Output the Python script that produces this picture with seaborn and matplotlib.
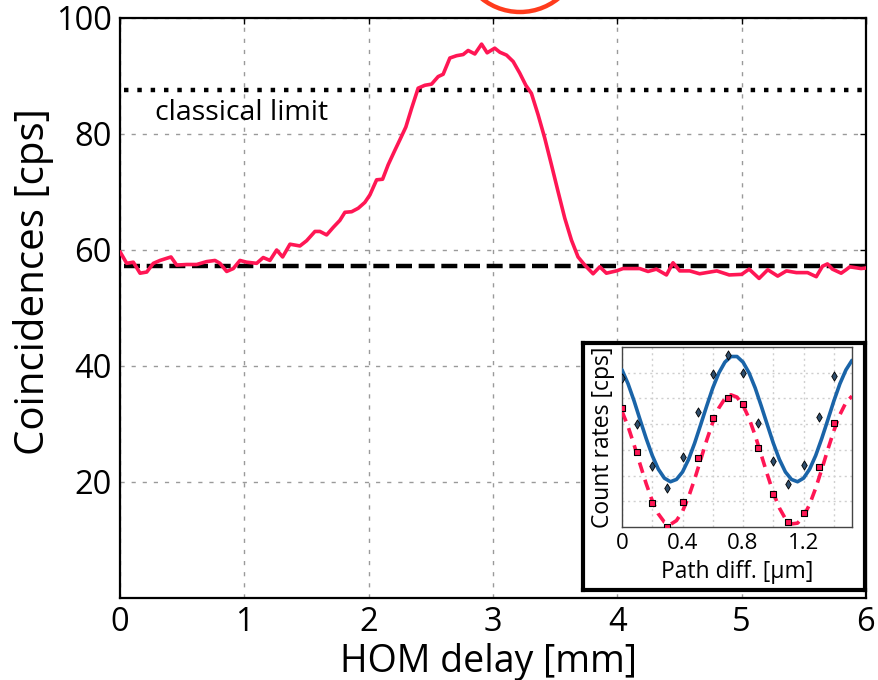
import matplotlib
matplotlib.use("Agg")
import matplotlib.pyplot as plt
from matplotlib.patches import Circle
from matplotlib.ticker import MultipleLocator
import seaborn as sns
import pandas as pd

# ---------------- data ----------------
hom_delay = [0.00, 0.054, 0.107, 0.161, 0.215, 0.268, 0.322, 0.41, 0.456, 0.536, 0.617, 0.697,
             0.764, 0.804, 0.858, 0.911, 0.965, 1.018, 1.099, 1.152, 1.206, 1.26, 1.308, 1.367,
             1.447, 1.501, 1.568, 1.608, 1.662, 1.715, 1.768, 1.809, 1.863, 1.916, 1.969, 2.01,
             2.064, 2.112, 2.157, 2.211, 2.251, 2.299, 2.345, 2.398, 2.452, 2.506, 2.559, 2.599,
             2.653, 2.707, 2.76, 2.8, 2.854, 2.908, 2.953, 3.014, 3.055, 3.109, 3.162, 3.215,
             3.264, 3.309, 3.363, 3.416, 3.47, 3.523, 3.577, 3.631, 3.684, 3.738, 3.805, 3.859,
             3.912, 3.993, 4.046, 4.126, 4.18, 4.247, 4.314, 4.395, 4.448, 4.502, 4.582, 4.662,
             4.80, 4.90, 5.00, 5.06, 5.14, 5.21, 5.29, 5.36, 5.44, 5.53, 5.60, 5.65, 5.69, 5.73,
             5.80, 5.84, 5.87, 5.96, 6.0]
coincidences = [59.7, 57.7, 57.9, 56.0, 56.2, 57.7, 58.2, 58.8, 57.4, 57.5, 57.5, 58.0,
                58.2, 57.7, 56.3, 56.8, 58.2, 57.9, 57.7, 58.7, 58.2, 60.0, 58.8, 61.0,
                60.7, 61.6, 63.2, 63.2, 62.6, 63.9, 65.1, 66.5, 66.6, 67.2, 68.2, 69.5,
                72.1, 72.2, 74.7, 77.2, 79.0, 81.2, 84.4, 87.9, 88.4, 88.6, 89.9, 90.3,
                93.1, 93.5, 93.7, 94.4, 93.8, 95.5, 94.0, 94.8, 94.1, 93.6, 92.5, 90.5,
                88.4, 87.0, 83.3, 79.3, 74.7, 70.1, 65.5, 61.7, 58.8, 57.4, 55.9, 57.1,
                56.0, 56.4, 56.8, 56.8, 56.8, 56.3, 56.7, 55.7, 57.8, 56.4, 56.4, 55.9,
                56.4, 55.7, 55.8, 56.7, 55.1, 56.6, 55.5, 56.4, 56.1, 56.1, 55.4, 57.2, 57.6, 56.7,
                56.0, 56.6, 57.1, 56.8, 56.9]
baseline_level = 57.2
classical_limit = 87.6
main_xticks = [0, 1, 2, 3, 4, 5, 6]
main_yticks = [20, 40, 60, 80, 100]

# inset: measured points
path_pts = [0.0, 0.1, 0.2, 0.3, 0.4, 0.5, 0.6, 0.7, 0.8, 0.9, 1.0, 1.1, 1.2, 1.3, 1.4]
rate_a_pts = [5.81, 4.01, 2.39, 1.53, 2.71, 4.49, 5.95, 6.67, 6.00, 4.06, 2.58, 1.66, 2.41, 4.29, 5.89]
rate_b_pts = [4.62, 2.91, 0.92, 0.01, 0.99, 2.67, 4.22, 5.03, 4.79, 3.06, 1.28, 0.18, 0.56, 2.35, 4.06]
# inset: fitted curves
path_fit = [0.00, 0.04, 0.08, 0.12, 0.16, 0.20, 0.24, 0.28, 0.32, 0.36, 0.40, 0.44, 0.48,
            0.52, 0.56, 0.60, 0.64, 0.68, 0.72, 0.76, 0.80, 0.84, 0.88, 0.92, 0.96, 1.00,
            1.04, 1.08, 1.12, 1.16, 1.20, 1.24, 1.28, 1.32, 1.36, 1.40, 1.44, 1.48, 1.52]
rate_a_fit = [6.11, 5.57, 4.90, 4.16, 3.44, 2.78, 2.25, 1.90, 1.76, 1.85, 2.14, 2.63, 3.26,
              3.98, 4.71, 5.41, 5.99, 6.41, 6.63, 6.63, 6.41, 5.99, 5.41, 4.71, 3.98, 3.26,
              2.63, 2.14, 1.85, 1.76, 1.90, 2.25, 2.78, 3.44, 4.16, 4.90, 5.57, 6.11, 6.48]
rate_b_fit = [4.50, 3.91, 3.19, 2.43, 1.68, 1.02, 0.51, 0.19, 0.10, 0.25, 0.61, 1.17, 1.86,
              2.62, 3.38, 4.07, 4.63, 4.99, 5.14, 5.05, 4.73, 4.22, 3.56, 2.81, 2.05, 1.33,
              0.74, 0.32, 0.12, 0.15, 0.41, 0.88, 1.51, 2.24, 3.01, 3.74, 4.37, 4.84, 5.09]
inset_xticks = [0, 0.4, 0.8, 1.2]
inset_xticklabels = ["0", "0.4", "0.8", "1.2"]

RED = "#ff1654"
BLUE = "#1a64a8"

sns.set_style("white")
plt.rcParams["font.family"] = ["Open Sans", "DejaVu Sans"]
plt.rcParams["text.color"] = "black"
plt.rcParams["axes.labelcolor"] = "black"
plt.rcParams["xtick.color"] = "black"
plt.rcParams["ytick.color"] = "black"

fig = plt.figure(figsize=(8.79, 6.8), dpi=100)

# ---------------- main axes ----------------
ax = fig.add_axes([120 / 879, 1 - 598 / 680, 746 / 879, 580 / 680])
df_main = pd.DataFrame({"delay": hom_delay, "coinc": coincidences})
sns.lineplot(data=df_main, x="delay", y="coinc", ax=ax, color=RED, lw=2.6,
             sort=False, estimator=None, zorder=4)
ax.axhline(baseline_level, xmin=0.006, xmax=1, color="black", lw=3.2,
           linestyle=(0, (3.6, 1.5)), zorder=3)
ax.axhline(classical_limit, xmin=0.006, xmax=0.995, color="black", lw=3.2,
           linestyle=(0, (1, 2.0)), zorder=3)
ax.text(0.28, 83.7, "classical limit", fontsize=20.5, ha="left", va="center",
        color="black")

ax.set_xlim(0, 6)
ax.set_ylim(0, 100)
ax.set_xticks(main_xticks)
ax.set_xticklabels([str(t) for t in main_xticks])
ax.set_yticks(main_yticks)
ax.set_yticklabels([str(t) for t in main_yticks])
ax.grid(True, color="#9a9a9a", lw=1.0, linestyle=(0, (3, 5)))
ax.tick_params(direction="in", length=4, width=1, top=True, right=True,
               labelsize=23.5, pad=6, colors="black")
for s in ax.spines.values():
    s.set_visible(True)
    s.set_color("black")
    s.set_linewidth(1.6)
ax.set_xlabel("HOM delay [mm]", fontsize=27, color="black")
ax.set_ylabel("Coincidences [cps]", fontsize=29, color="black")
ax.xaxis.set_label_coords(0.4945, -0.078)
ax.yaxis.set_label_coords(-0.088, 0.545)

# ---------------- inset frame ----------------
frame = fig.add_axes([583 / 879, 1 - 590 / 680, 282 / 879, 247 / 680])
frame.set_facecolor("white")
frame.set_xticks([])
frame.set_yticks([])
for s in frame.spines.values():
    s.set_visible(True)
    s.set_color("black")
    s.set_linewidth(3)
frame.set_zorder(5)

# ---------------- inset axes ----------------
ax_in = fig.add_axes([622 / 879, 1 - 527 / 680, 230 / 879, 180 / 680])
ax_in.set_zorder(6)
df_fit = pd.DataFrame({"x": path_fit, "a": rate_a_fit, "b": rate_b_fit})
df_pts = pd.DataFrame({"x": path_pts, "a": rate_a_pts, "b": rate_b_pts})
sns.lineplot(data=df_fit, x="x", y="a", ax=ax_in, color=BLUE, lw=2.6,
             sort=False, estimator=None, zorder=3)
sns.lineplot(data=df_fit, x="x", y="b", ax=ax_in, color=RED, lw=2.6,
             sort=False, estimator=None, zorder=3, linestyle=(0, (3.0, 2.0)))
sns.scatterplot(data=df_pts, x="x", y="a", ax=ax_in, marker="d", s=22,
                color="#2d4c6a", edgecolor="black", linewidth=0.6, zorder=4)
sns.scatterplot(data=df_pts, x="x", y="b", ax=ax_in, marker="s", s=18,
                color=RED, edgecolor="black", linewidth=0.8, zorder=4)
ax_in.set_xlim(0, 1.52)
ax_in.set_ylim(0, 7)
ax_in.set_xticks(inset_xticks)
ax_in.set_xticklabels(inset_xticklabels)
ax_in.xaxis.set_minor_locator(MultipleLocator(0.2))
ax_in.set_yticks([1, 2, 3, 4, 5, 6])
ax_in.set_yticklabels([])
ax_in.grid(True, which="both", color="#cfcfcf", lw=1.0, linestyle=(0, (1.5, 2.5)))
ax_in.tick_params(direction="in", length=3, width=0.8, labelsize=16, pad=4,
                  colors="black")
ax_in.tick_params(axis="y", length=0)
ax_in.tick_params(which="minor", length=3, direction="in")
for s in ax_in.spines.values():
    s.set_visible(True)
    s.set_color("#444444")
    s.set_linewidth(1.0)
ax_in.set_xlabel("Path diff. [\u00b5m]", fontsize=16.5, color="black")
ax_in.xaxis.set_label_coords(0.5, -0.185)
ax_in.set_ylabel("Count rates [cps]", fontsize=16.5, labelpad=1, color="black")

# ---------------- red annotation circle (cropped at top) ----------------
fig.add_artist(Circle((5.20, (680 + 49) / 100), 0.61, transform=fig.dpi_scale_trans,
                      fill=False, edgecolor="#ff3b1c", lw=3.2))

fig.savefig("out.png", dpi=100)
